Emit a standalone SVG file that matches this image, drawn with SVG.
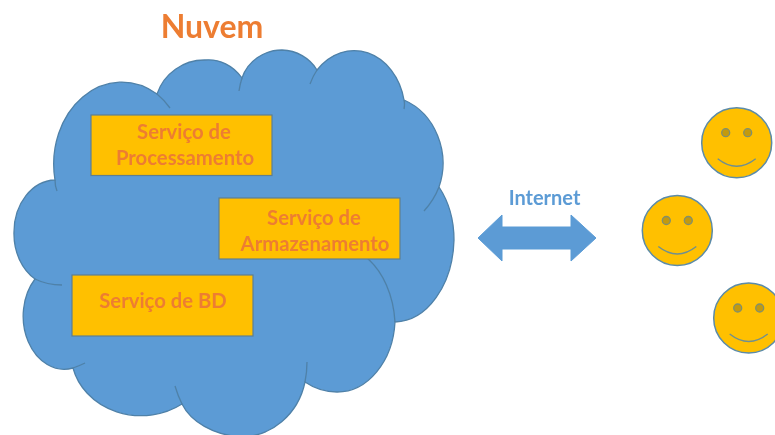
<svg xmlns="http://www.w3.org/2000/svg" width="775" height="435" viewBox="0 0 775 435">
<defs><filter id="soft" x="-2%" y="-2%" width="104%" height="104%"><feGaussianBlur stdDeviation="0.45"/></filter></defs>
<style>
text{font-family:Lato,"Open Sans",Arial,sans-serif;font-weight:700;text-anchor:middle}
.box{fill:#FFC000;stroke:#5F7F8F;stroke-width:1.2}
.lbl{fill:#ED7D31;font-size:20.3px}
.cloud{fill:#5B9BD5;stroke:#4F81A8;stroke-width:1.3}
.tail{fill:none;stroke:#4F81A8;stroke-width:1.3}
.face{fill:#FFC000;stroke:#5B8BA8;stroke-width:1.5}
.eye{fill:#C49A10;stroke:#7F8F70;stroke-width:1.3}
.smile{fill:none;stroke:#6F8F90;stroke-width:1.4}
</style>
<rect width="775" height="435" fill="#fff"/>
<g filter="url(#soft)">
<g id="cloud">
<path class="cloud" d="M55 180A68 82 0 0 1 157 94A50 50 0 0 1 205 60A42 46 0 0 1 242 78A42 40 0 0 1 282 50A42 40 0 0 1 317 70A51 62 0 0 1 404 100A62 68 0 0 1 439 187A60 80 0 0 1 454 240A60 85 0 0 1 395 322A58 75 0 0 1 337 392A58 60 0 0 1 305 382A66 70 0 0 1 240 437A70 50 0 0 1 182 404A70 62 0 0 1 73 368A41 53 0 0 1 35 279A42 52 0 0 1 14 232A42 52 0 0 1 55 180Z"/>
<path class="tail" d="M55 180Q55 186 57 191M157 94A68 82 0 0 1 170 108M242 78Q240 84 239 91M317 70Q313 76 310 84M404 100Q405 104 404 109M439 187Q434 200 424 211M367 258A58 82 0 0 1 395 322M305 382Q307 372 307 362M182 404Q178 396 175 386M73 368Q79 366 85 363M35 279Q47 285 62 285"/>
</g>
<text id="title" x="212" y="38" font-size="32" fill="#ED7D31">Nuvem</text>
<g id="proc"><rect class="box" x="91" y="115" width="181" height="60.500"/><text class="lbl" x="184" y="139">Serviço de</text><text class="lbl" x="185" y="165">Processamento</text></g>
<g id="arm"><rect class="box" x="219" y="198" width="181" height="61"/><text class="lbl" x="314" y="225">Serviço de</text><text class="lbl" x="315" y="251">Armazenamento</text></g>
<g id="bd"><rect class="box" x="72" y="275" width="181" height="61"/><text class="lbl" x="163" y="308">Serviço de BD</text></g>
<g id="connectors"><polygon points="478,238 502,215 502,227 571,227 571,215 596,238 571,261 571,249 502,249 502,261" fill="#5B9BD5" stroke="#5B9BD5" stroke-width="1"/></g>
<text id="internet" x="544.500" y="205" font-size="20" fill="#5B9BD5">Internet</text>
<g id="user1" transform="translate(736.700 142.700)"><circle class="face" r="35"/><circle class="eye" cx="-11" cy="-10" r="4"/><circle class="eye" cx="11" cy="-10" r="4"/><path class="smile" d="M-19 16Q0 31 19 16"/></g>
<g id="user2" transform="translate(677.300 230.500)"><circle class="face" r="35"/><circle class="eye" cx="-11" cy="-10" r="4"/><circle class="eye" cx="11" cy="-10" r="4"/><path class="smile" d="M-19 16Q0 31 19 16"/></g>
<g id="user3" transform="translate(748.700 318)"><circle class="face" r="35"/><circle class="eye" cx="-11" cy="-10" r="4"/><circle class="eye" cx="11" cy="-10" r="4"/><path class="smile" d="M-19 16Q0 31 19 16"/></g>
</g>
</svg>
